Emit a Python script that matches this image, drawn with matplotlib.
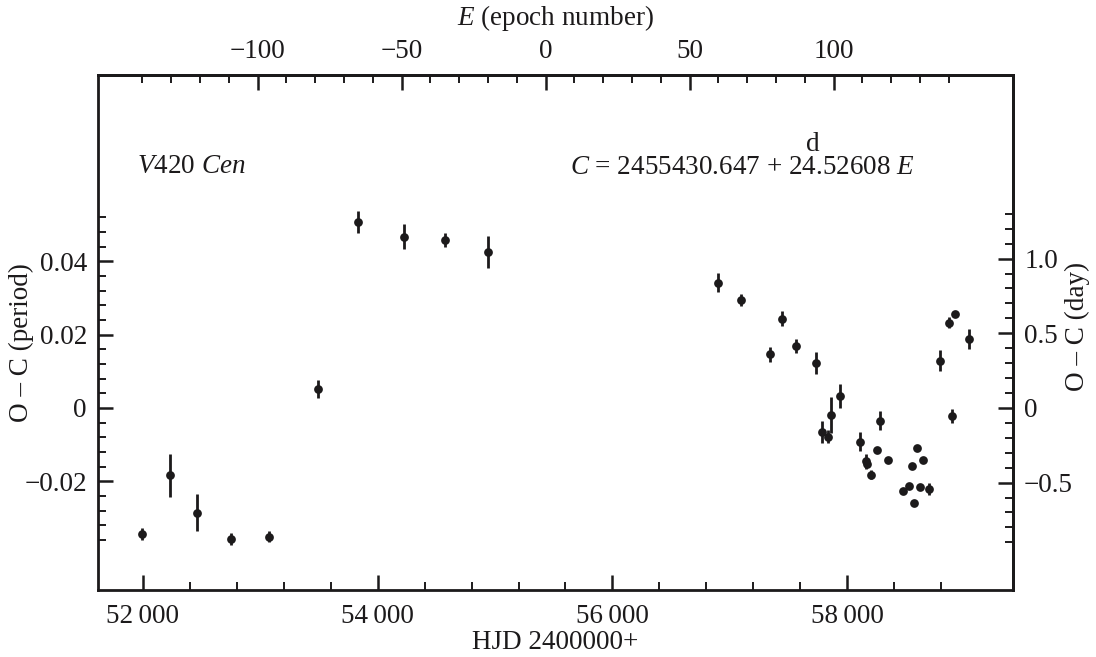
import numpy as np
import matplotlib
matplotlib.use("Agg")
import matplotlib.pyplot as plt
from matplotlib.ticker import FixedLocator, FixedFormatter

plt.rcParams['font.family'] = ['Liberation Serif', 'DejaVu Serif']
plt.rcParams['mathtext.fontset'] = 'custom'
plt.rcParams['mathtext.rm'] = 'Liberation Serif'
plt.rcParams['mathtext.it'] = 'Liberation Serif:italic'

# ---- data ----
hjd = [51992, 52233, 52460, 52752, 53073, 53490, 53835, 54227, 54571, 54939,
       56902, 57098, 57342, 57444, 57563, 57737, 57784, 57835, 57858, 57935,
       58105, 58156, 58165, 58204, 58253, 58275, 58349, 58474, 58522, 58548,
       58571, 58596, 58622, 58644, 58695, 58792, 58866, 58891, 58917, 59039]
oc = [-0.0345, -0.0184, -0.0286, -0.0357, -0.0351, 0.0051, 0.0509, 0.0468, 0.0459, 0.0425,
      0.0342, 0.0294, 0.0146, 0.0244, 0.0169, 0.0123, -0.0066, -0.0078, -0.0019, 0.0033,
      -0.0092, -0.0146, -0.0152, -0.0182, -0.0115, -0.0035, -0.0142, -0.0226, -0.0212, -0.0159,
      -0.0259, -0.0110, -0.0215, -0.0142, -0.0222, 0.0129, 0.0233, -0.0022, 0.0256, 0.0188]
err = [0.0016, 0.0058, 0.0051, 0.0016, 0.0015, 0.0025, 0.0030, 0.0035, 0.0020, 0.0044,
       0.0026, 0.0016, 0.0020, 0.0020, 0.0020, 0.0030, 0.0030, 0.0018, 0.0050, 0.0032,
       0.0025, 0.0020, 0.0010, 0.0013, 0.0, 0.0026, 0.0, 0.0, 0.0, 0.0,
       0.0, 0.0, 0.0, 0.0, 0.0016, 0.0028, 0.0014, 0.0018, 0.0008, 0.0028]

T0 = 55430.647
PERIOD = 24.52608

x_limits = (51620, 59410)
y_limits = (-0.0497, 0.0909)

bottom_major = [52000, 54000, 56000, 58000]
bottom_labels = ['52\u2009000', '54\u2009000', '56\u2009000', '58\u2009000']
bottom_minor = list(range(52000, 58801, 400))
left_major = [-0.02, 0.0, 0.02, 0.04]
left_labels = ['\u22120.02', '0', '0.02', '0.04']
left_minor = [round(v, 3) for v in np.arange(-0.036, 0.0521, 0.004)]
right_major = [-0.5, 0.0, 0.5, 1.0]
right_labels = ['\u22120.5', '0', '0.5', '1.0']
right_minor = [round(v, 1) for v in np.arange(-0.9, 1.31, 0.1)]
top_major = [-100, -50, 0, 50, 100]
top_labels = ['\u2212100', '\u221250', '0', '50', '100']
top_minor = list(range(-140, 141, 10))

INK = '#1c1a1b'
FS = 19.5

fig = plt.figure(figsize=(10.96, 6.57), dpi=100)
ax = fig.add_axes([98/1096, 67/657, 915/1096, 515/657])

ax.errorbar(hjd, oc, yerr=err, fmt='o', color=INK, ms=6.3, elinewidth=2.0,
            capsize=0, mew=0, zorder=3)

ax.set_xlim(*x_limits)
ax.set_ylim(*y_limits)

for s in ax.spines.values():
    s.set_linewidth(2.0)
    s.set_color(INK)

tick_kw = dict(direction='in', color=INK, labelcolor=INK, labelsize=FS)
ax.xaxis.set_major_locator(FixedLocator(bottom_major))
ax.xaxis.set_major_formatter(FixedFormatter(bottom_labels))
ax.xaxis.set_minor_locator(FixedLocator(bottom_minor))
ax.yaxis.set_major_locator(FixedLocator(left_major))
ax.yaxis.set_major_formatter(FixedFormatter(left_labels))
ax.yaxis.set_minor_locator(FixedLocator(left_minor))
ax.tick_params(which='major', length=11, width=1.8, pad=8, **tick_kw)
ax.tick_params(which='minor', length=5.5, width=1.4, **tick_kw)
ax.tick_params(axis='x', which='major', pad=10)

ax.set_xlabel('HJD 2400000+', fontsize=FS, color=INK, labelpad=1)
ax.set_ylabel('O \u2013 C (period)', fontsize=FS, color=INK)
ax.yaxis.set_label_coords(-0.070, 0.48)

# top axis: epoch number
top = ax.secondary_xaxis('top', functions=(lambda h: (h - T0) / PERIOD,
                                            lambda e: T0 + e * PERIOD))
top.xaxis.set_major_locator(FixedLocator(top_major))
top.xaxis.set_major_formatter(FixedFormatter(top_labels))
top.xaxis.set_minor_locator(FixedLocator(top_minor))
top.tick_params(which='major', length=11, width=1.8, pad=8, **tick_kw)
top.tick_params(which='minor', length=5.5, width=1.4, **tick_kw)
top.set_xlabel(r'$\mathit{E}$ (epoch number)', fontsize=FS, color=INK, labelpad=10)
top.spines['top'].set_linewidth(2.0)

# right axis: O-C in days
right = ax.secondary_yaxis('right', functions=(lambda p: p * PERIOD,
                                                lambda d: d / PERIOD))
right.yaxis.set_major_locator(FixedLocator(right_major))
right.yaxis.set_major_formatter(FixedFormatter(right_labels))
right.yaxis.set_minor_locator(FixedLocator(right_minor))
right.tick_params(which='major', length=11, width=1.8, pad=8, **tick_kw)
right.tick_params(which='minor', length=5.5, width=1.4, **tick_kw)
right.spines['right'].set_linewidth(2.0)
fig.text(1077/1096, 1 - 326/657, 'O \u2013 C (day)', rotation=90, fontsize=FS,
         color=INK, ha='center', va='center')

ax.text(0.0426, 0.823, r'$\mathit{V}$420 $\mathit{Cen}$', transform=ax.transAxes,
        fontsize=FS, color=INK, ha='left', va='center')
ax.text(0.516, 0.821, r'$\mathit{C}$ = 2455430.647 + 24.52608 $\mathit{E}$',
        transform=ax.transAxes, fontsize=FS, color=INK, ha='left', va='center')
ax.text(0.781, 0.866, 'd', transform=ax.transAxes, fontsize=FS, color=INK,
        ha='center', va='center')

fig.savefig('out.png', dpi=100)
